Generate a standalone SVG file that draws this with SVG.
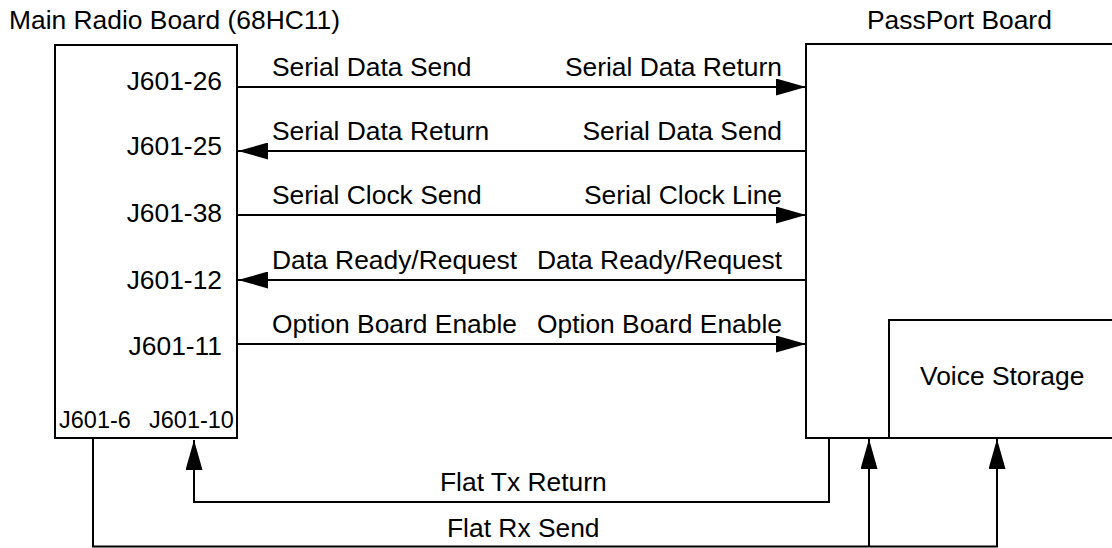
<svg xmlns="http://www.w3.org/2000/svg" width="1112" height="548" viewBox="0 0 1112 548">
<style>
  .box { fill: none; stroke: #000; stroke-width: 2; }
  .wire { fill: none; stroke: #000; stroke-width: 2; }
  text { font-family: "Liberation Sans", Arial, sans-serif; font-size: 26.4px; fill: #000; }
  .end { text-anchor: end; }
  .small { font-size: 23.5px; }
</style>
<defs>
  <marker id="arrow" markerUnits="userSpaceOnUse" markerWidth="30" markerHeight="17" refX="30" refY="8.5" orient="auto">
    <path d="M0,0 L30,8.5 L0,17 z" fill="#000"/>
  </marker>
</defs>
<rect width="1112" height="548" fill="#fff"/>

<g id="main-radio-board">
  <text x="9" y="29">Main Radio Board (68HC11)</text>
  <rect class="box" x="55" y="45" width="182" height="393"/>
  <text class="end" x="222" y="89.5">J601-26</text>
  <text class="end" x="222" y="155">J601-25</text>
  <text class="end" x="222" y="221.5">J601-38</text>
  <text class="end" x="222" y="288.5">J601-12</text>
  <text class="end" x="222" y="355">J601-11</text>
  <text class="small" x="59" y="428">J601-6</text>
  <text class="small" x="149" y="428">J601-10</text>
</g>

<g id="passport-board">
  <text x="867" y="29">PassPort Board</text>
  <rect class="box" x="806" y="44" width="320" height="394"/>
</g>

<g id="voice-storage">
  <path class="box" d="M889,439 V320 H1120"/>
  <text x="920" y="385">Voice Storage</text>
</g>

<g id="connectors">
  <path class="wire" d="M237,87 H806" marker-end="url(#arrow)"/>
  <path class="wire" d="M807,151 H238" marker-end="url(#arrow)"/>
  <path class="wire" d="M237,215 H806" marker-end="url(#arrow)"/>
  <path class="wire" d="M807,280 H238" marker-end="url(#arrow)"/>
  <path class="wire" d="M237,344 H806" marker-end="url(#arrow)"/>
  <path class="wire" d="M829,438 V502 H194 V440" marker-end="url(#arrow)"/>
  <path class="wire" d="M93,438 V546.5 H997 V439" marker-end="url(#arrow)"/>
  <path class="wire" d="M869,546.5 V439" marker-end="url(#arrow)"/>

  <text x="272" y="76">Serial Data Send</text>
  <text x="272" y="140">Serial Data Return</text>
  <text x="272" y="204">Serial Clock Send</text>
  <text x="272" y="269">Data Ready/Request</text>
  <text x="272" y="333">Option Board Enable</text>
  <text class="end" x="782" y="76">Serial Data Return</text>
  <text class="end" x="782" y="140">Serial Data Send</text>
  <text class="end" x="782" y="204">Serial Clock Line</text>
  <text class="end" x="782" y="269">Data Ready/Request</text>
  <text class="end" x="782" y="333">Option Board Enable</text>
  <text x="440" y="491">Flat Tx Return</text>
  <text x="447" y="537">Flat Rx Send</text>
</g>
</svg>
